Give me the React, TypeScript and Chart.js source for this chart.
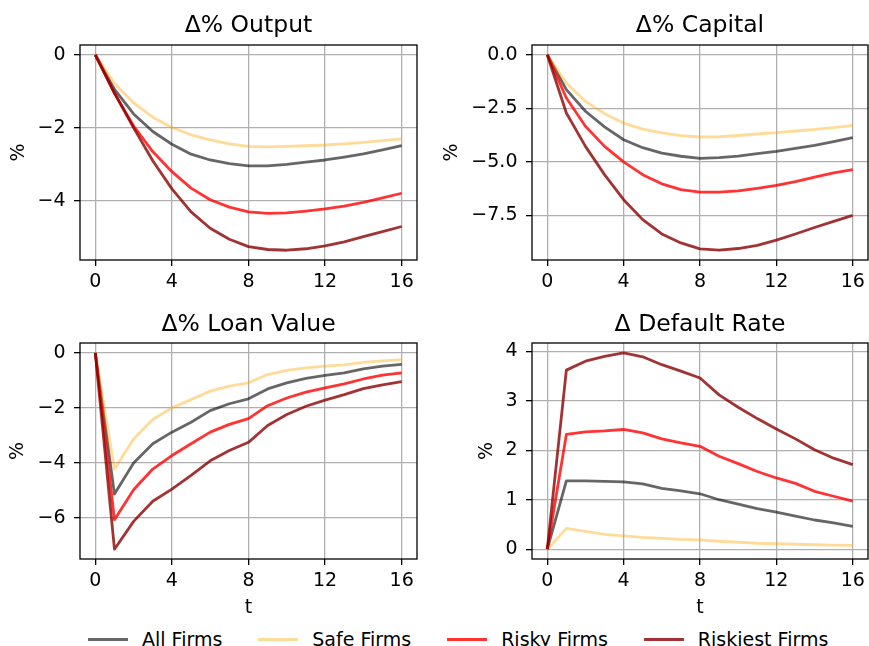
import React, { useEffect, useRef } from 'react';
import Chart from 'chart.js/auto';

// quarters after the shock
const periods = [0, 1, 2, 3, 4, 5, 6, 7, 8, 9, 10, 11, 12, 13, 14, 15, 16];
const xTicks = [0, 4, 8, 12, 16];

const seriesNames = ['All Firms', 'Safe Firms', 'Risky Firms', 'Riskiest Firms'];

// Δ% Output
const outputAll = [0, -0.95, -1.62, -2.1, -2.45, -2.72, -2.88, -2.98, -3.04, -3.04, -3.0, -2.94, -2.88, -2.8, -2.71, -2.6, -2.49];
const outputSafe = [0, -0.78, -1.32, -1.71, -1.99, -2.19, -2.33, -2.44, -2.51, -2.52, -2.51, -2.49, -2.47, -2.44, -2.4, -2.35, -2.3];
const outputRisky = [0, -1.05, -1.95, -2.65, -3.2, -3.65, -3.97, -4.17, -4.3, -4.34, -4.33, -4.28, -4.22, -4.14, -4.04, -3.92, -3.79];
const outputRiskiest = [0, -1.05, -2.0, -2.9, -3.67, -4.3, -4.75, -5.05, -5.25, -5.33, -5.35, -5.31, -5.23, -5.12, -4.98, -4.84, -4.7];
const outputTicks = [0, -2, -4];

// Δ% Capital
const capitalAll = [0, -1.63, -2.64, -3.37, -3.97, -4.34, -4.59, -4.74, -4.84, -4.8, -4.73, -4.62, -4.51, -4.37, -4.23, -4.06, -3.87];
const capitalSafe = [0, -1.32, -2.18, -2.75, -3.19, -3.47, -3.65, -3.78, -3.84, -3.83, -3.77, -3.7, -3.64, -3.56, -3.48, -3.4, -3.3];
const capitalRisky = [0, -2.02, -3.34, -4.28, -5.0, -5.6, -6.03, -6.3, -6.42, -6.42, -6.36, -6.24, -6.1, -5.93, -5.72, -5.52, -5.37];
const capitalRiskiest = [0, -2.72, -4.28, -5.6, -6.77, -7.7, -8.37, -8.79, -9.07, -9.13, -9.05, -8.9, -8.66, -8.37, -8.07, -7.78, -7.5];
const capitalTicks = [0, -2.5, -5, -7.5];

// Δ% Loan Value
const loanAll = [0, -5.13, -4.0, -3.3, -2.88, -2.52, -2.1, -1.85, -1.67, -1.31, -1.09, -0.93, -0.82, -0.73, -0.58, -0.48, -0.42];
const loanSafe = [0, -4.22, -3.13, -2.42, -2.0, -1.7, -1.39, -1.21, -1.09, -0.79, -0.64, -0.55, -0.48, -0.44, -0.35, -0.29, -0.25];
const loanRisky = [0, -6.06, -4.97, -4.22, -3.73, -3.3, -2.88, -2.6, -2.39, -1.92, -1.64, -1.43, -1.27, -1.13, -0.95, -0.81, -0.73];
const loanRiskiest = [0, -7.13, -6.12, -5.39, -4.95, -4.45, -3.92, -3.55, -3.25, -2.64, -2.24, -1.94, -1.72, -1.52, -1.3, -1.16, -1.05];
const loanTicks = [0, -2, -4, -6];

// Δ Default Rate
const defaultAll = [0, 1.38, 1.38, 1.37, 1.36, 1.32, 1.23, 1.18, 1.12, 1.0, 0.91, 0.82, 0.75, 0.67, 0.59, 0.53, 0.46];
const defaultSafe = [0, 0.42, 0.36, 0.3, 0.27, 0.24, 0.22, 0.2, 0.19, 0.16, 0.14, 0.12, 0.11, 0.1, 0.09, 0.08, 0.075];
const defaultRisky = [0, 2.32, 2.37, 2.39, 2.42, 2.35, 2.23, 2.15, 2.08, 1.88, 1.73, 1.57, 1.44, 1.33, 1.17, 1.07, 0.97];
const defaultRiskiest = [0, 3.62, 3.8, 3.9, 3.97, 3.89, 3.73, 3.6, 3.46, 3.12, 2.87, 2.64, 2.43, 2.23, 2.01, 1.84, 1.71];
const defaultTicks = [0, 1, 2, 3, 4];

const COLORS = ['rgba(0, 0, 0, 0.6)', 'rgba(255, 165, 0, 0.4)', 'rgba(255, 0, 0, 0.8)', 'rgba(139, 0, 0, 0.8)'];
const FONT = 'DejaVu Sans';
const TEXT_SIZE = 19;
const TITLE_SIZE = 23.5;

// matplotlib-style box around the axes
const framePlugin = {
  id: 'frame',
  afterDatasetsDraw(chart: any) {
    const { ctx, chartArea: a } = chart;
    ctx.save();
    ctx.strokeStyle = '#000';
    ctx.lineWidth = 1.3;
    ctx.strokeRect(a.left, a.top, a.right - a.left, a.bottom - a.top);
    ctx.restore();
  },
};

const fmt = (v: number, decimals: number) => (v < -1e-9 ? '\u2212' : '') + Math.abs(v).toFixed(decimals);

interface PanelProps {
  title: string;
  series: number[][];
  yTicks: number[];
  decimals: number;
  showT: boolean;
  left: number;
  top: number;
  width: number;
  height: number;
  yWidth: number;
  xHeight: number;
  padRight: number;
  titlePadTop: number;
  titlePadBottom: number;
  pctPad: number;
}

const Panel: React.FC<PanelProps> = (p) => {
  const canvasRef = useRef<HTMLCanvasElement>(null);
  const chartRef = useRef<Chart | null>(null);

  useEffect(() => {
    if (!canvasRef.current) return;
    if (chartRef.current) chartRef.current.destroy();

    const all = p.series.flat();
    const lo = Math.min(...all);
    const hi = Math.max(...all);
    const margin = (hi - lo) * 0.05;

    chartRef.current = new Chart(canvasRef.current, {
      type: 'line',
      data: {
        datasets: p.series.map((values, i) => ({
          label: seriesNames[i],
          data: values.map((y, j) => ({ x: periods[j], y })),
          borderColor: COLORS[i],
          backgroundColor: COLORS[i],
          borderWidth: 2.8,
          borderJoinStyle: 'round' as const,
          pointRadius: 0,
          tension: 0,
          order: 3 - i,
        })),
      },
      options: {
        animation: false,
        responsive: true,
        maintainAspectRatio: false,
        layout: { padding: { left: 0, right: p.padRight, top: 0, bottom: 0 } },
        plugins: {
          legend: { display: false },
          tooltip: { enabled: false },
          title: {
            display: true,
            text: p.title,
            fullSize: false,
            color: '#000',
            font: { family: FONT, size: TITLE_SIZE, weight: 'normal' },
            padding: { top: p.titlePadTop, bottom: p.titlePadBottom },
          },
        },
        scales: {
          x: {
            type: 'linear',
            min: -0.8,
            max: 16.8,
            afterBuildTicks: (scale: any) => {
              scale.ticks = xTicks.map((value) => ({ value }));
            },
            afterFit: (scale: any) => {
              scale.height = p.xHeight;
              scale.paddingLeft = 0;
              scale.paddingRight = 0;
            },
            border: { display: false },
            grid: { color: '#b0b0b0', lineWidth: 1.3, tickColor: '#000', tickLength: 6, tickWidth: 1.3 },
            ticks: {
              color: '#000',
              padding: 4.8,
              maxRotation: 0,
              font: { family: FONT, size: TEXT_SIZE },
              callback: (v: any) => String(v),
            },
            title: {
              display: p.showT,
              text: 't',
              color: '#000',
              font: { family: FONT, size: TEXT_SIZE },
              padding: { top: 0, bottom: 0.3 },
            },
          },
          y: {
            type: 'linear',
            min: lo - margin,
            max: hi + margin,
            afterBuildTicks: (scale: any) => {
              scale.ticks = p.yTicks.map((value) => ({ value }));
            },
            afterFit: (scale: any) => {
              scale.width = p.yWidth;
              scale.paddingTop = 0;
              scale.paddingBottom = 0;
            },
            border: { display: false },
            grid: { color: '#b0b0b0', lineWidth: 1.3, tickColor: '#000', tickLength: 6, tickWidth: 1.3 },
            ticks: {
              color: '#000',
              padding: 8.5,
              font: { family: FONT, size: TEXT_SIZE },
              callback: (v: any) => fmt(Number(v), p.decimals),
            },
            title: {
              display: true,
              text: '%',
              color: '#000',
              font: { family: FONT, size: TEXT_SIZE },
              padding: { top: p.pctPad, bottom: 0 },
            },
          },
        },
      },
      plugins: [framePlugin],
    });

    return () => {
      if (chartRef.current) {
        chartRef.current.destroy();
        chartRef.current = null;
      }
    };
  }, [p]);

  return (
    <div style={{ position: 'absolute', left: p.left, top: p.top, width: p.width, height: p.height }}>
      <canvas ref={canvasRef}></canvas>
    </div>
  );
};

const panels: PanelProps[] = [
  {
    title: '\u0394% Output', series: [outputAll, outputSafe, outputRisky, outputRiskiest], yTicks: outputTicks, decimals: 0, showT: false,
    left: 0, top: 0, width: 430, height: 300, yWidth: 80, xHeight: 40, padRight: 13, titlePadTop: 12, titlePadBottom: 4.8, pctPad: 7.6,
  },
  {
    title: '\u0394% Capital', series: [capitalAll, capitalSafe, capitalRisky, capitalRiskiest], yTicks: capitalTicks, decimals: 1, showT: false,
    left: 430, top: 0, width: 439, height: 300, yWidth: 102, xHeight: 40, padRight: 1, titlePadTop: 12, titlePadBottom: 4.8, pctPad: 11.1,
  },
  {
    title: '\u0394% Loan Value', series: [loanAll, loanSafe, loanRisky, loanRiskiest], yTicks: loanTicks, decimals: 0, showT: true,
    left: 0, top: 300, width: 430, height: 320, yWidth: 80, xHeight: 61, padRight: 13, titlePadTop: 10.6, titlePadBottom: 4.2, pctPad: 7.1,
  },
  {
    title: '\u0394 Default Rate', series: [defaultAll, defaultSafe, defaultRisky, defaultRiskiest], yTicks: defaultTicks, decimals: 0, showT: true,
    left: 430, top: 300, width: 439, height: 320, yWidth: 102, xHeight: 61, padRight: 1, titlePadTop: 10.6, titlePadBottom: 4.2, pctPad: 45.3,
  },
];

const Legend: React.FC = () => (
  <div
    style={{
      position: 'absolute', left: 88, top: 630, display: 'flex', alignItems: 'center', columnGap: 36,
      fontFamily: FONT, fontSize: TEXT_SIZE, lineHeight: '19px', color: '#000', whiteSpace: 'nowrap',
    }}
  >
    {seriesNames.map((name, i) => (
      <div key={name} style={{ display: 'flex', alignItems: 'center', columnGap: 14 }}>
        <span style={{ display: 'inline-block', width: 40, height: 2.8, background: COLORS[i] }} />
        <span>{name}</span>
      </div>
    ))}
  </div>
);

export default function App() {
  return (
    <div style={{ position: 'absolute', left: 0, top: 0, width: 869, height: 646, overflow: 'hidden', background: '#fff' }}>
      {panels.map((p) => (
        <Panel key={p.title} {...p} />
      ))}
      <Legend />
    </div>
  );
}
